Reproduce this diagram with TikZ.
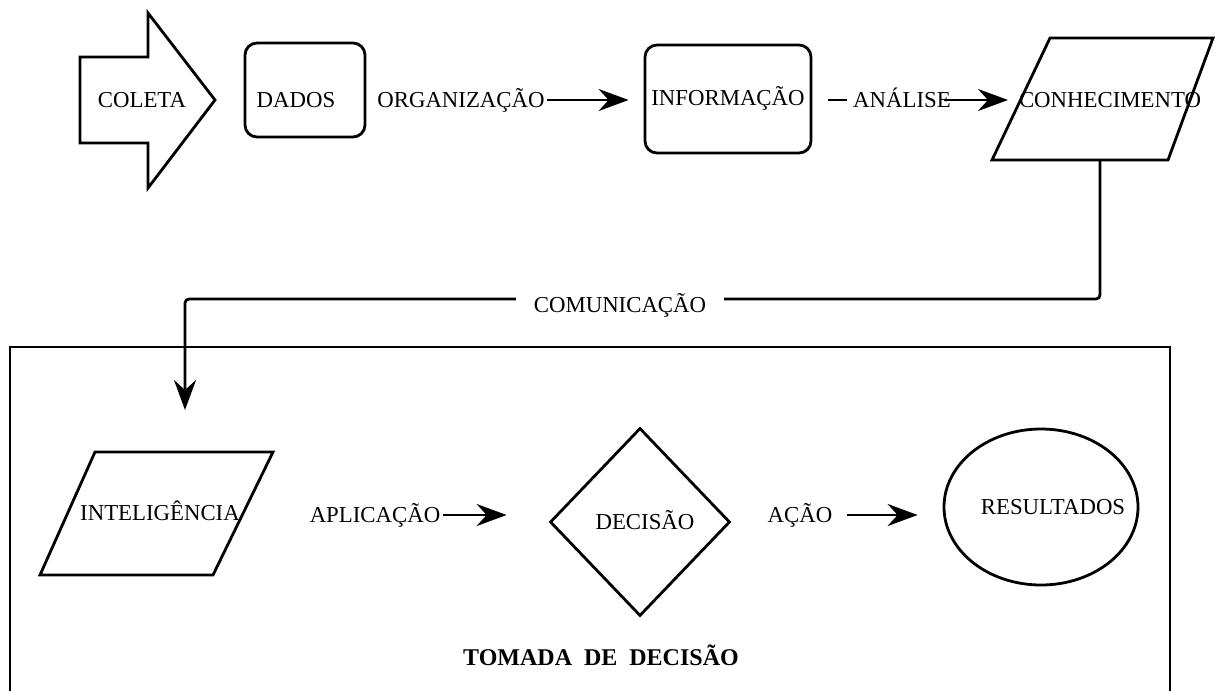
\documentclass[tikz,border=0pt]{standalone}
\usepackage{fontspec}
\setmainfont{Liberation Serif}
\usetikzlibrary{arrows.meta,shapes.geometric}
\begin{document}
\begin{tikzpicture}[x=0.5pt,y=-0.5pt,
  outline/.style={draw,line width=1.4pt,line join=miter},
  lbl/.style={font=\fontsize{11.4}{13}\selectfont,inner sep=1pt,anchor=base},
  flow/.style={line width=1.4pt,-{Stealth[length=15pt,width=11pt,inset=5pt]}},
  plain/.style={line width=1.4pt},
  roundbox/.style={outline,rounded corners=6pt,inner sep=0pt},
]
\useasboundingbox (0,0) rectangle (1216,691);

% --- top row ---
% COLETA block arrow
\draw[outline] (80,57) -- (148,57) -- (148,13) -- (215,100) -- (148,188)
  -- (148,143) -- (80,143) -- cycle;
\node[lbl] (coleta) at (142,107.5) {COLETA};

% DADOS
\node[roundbox,minimum width=60pt,minimum height=47pt] (dados) at (305,90) {};
\node[lbl] (dadostxt) at (296,107.5) {DADOS};

% ORGANIZAÇÃO -> INFORMAÇÃO
\node[lbl] (org) at (461,107.5) {ORGANIZAÇÃO};
\coordinate (orgmid) at ([yshift=3.75pt]org.base east);
\node[roundbox,minimum width=83pt,minimum height=54pt] (info) at (728,99) {};
\node[lbl] (infotxt) at (728,105.5) {INFORMAÇÃO};
\draw[flow,shorten >=7.5pt] (orgmid) -- (info.west |- orgmid);

% ANÁLISE -> CONHECIMENTO
\node[lbl] (ana) at (902,107.5) {ANÁLISE};
\coordinate (anaw) at ([yshift=3.75pt]ana.base west);
\coordinate (anae) at ([yshift=3.75pt]ana.base east);
\draw[plain] ([xshift=8pt]info.east |- anaw) -- ([xshift=-2pt]anaw);
\draw[outline] (1050,38) -- (1213,38) -- (1168,160) -- (992,160) -- cycle;
\coordinate (conhin) at (1008,100);
\coordinate (conhbot) at (1100,160);
\node[lbl] (conh) at (1110,107.5) {CONHECIMENTO};
\draw[flow] ([xshift=-4.5pt]anae) -- (conhin);

% --- decision frame ---
\draw[outline] (10,691) -- (10,347) -- (1170,347) -- (1170,691);

% COMUNICAÇÃO link from CONHECIMENTO down to INTELIGÊNCIA
\coordinate (intop) at (185,410);
\draw[flow,rounded corners=2pt] (conhbot) |- (185,299) -- (intop);
\node[lbl,fill=white,inner xsep=9pt,inner ysep=4pt] (com) at (620,312.5) {COMUNICAÇÃO};

% INTELIGÊNCIA
\draw[outline] (95,452) -- (273,452) -- (213,575) -- (40,575) -- cycle;
\node[lbl] (intel) at (160,520.5) {INTELIGÊNCIA};

% APLICAÇÃO -> DECISÃO
\node[lbl] (apl) at (375,522.5) {APLICAÇÃO};
\coordinate (aplmid) at ([yshift=3.75pt]apl.base east);
\node[diamond,outline,minimum width=90pt,minimum height=94pt,inner sep=0pt] (dec) at (640,522) {};
\node[lbl] (dectxt) at (645,529.5) {DECISÃO};
\draw[flow] (aplmid) -- ([xshift=-21pt]dec.west |- aplmid);

% AÇÃO -> RESULTADOS
\node[lbl] (acao) at (800,522.5) {AÇÃO};
\coordinate (acaomid) at ([yshift=3.75pt]acao.base east);
\node[ellipse,outline,minimum width=97pt,minimum height=78pt,inner sep=0pt] (res) at (1041,507) {};
\node[lbl] (restxt) at (1053,514.5) {RESULTADOS};
\draw[flow] ([xshift=6pt]acaomid) -- ([xshift=-12.5pt]res.west |- acaomid);

% frame title
\node[font=\bfseries\fontsize{12}{14}\selectfont,anchor=base] (title) at (601,665)
  {TOMADA\hspace{0.5em}DE\hspace{0.5em}DECISÃO};
\end{tikzpicture}
\end{document}
